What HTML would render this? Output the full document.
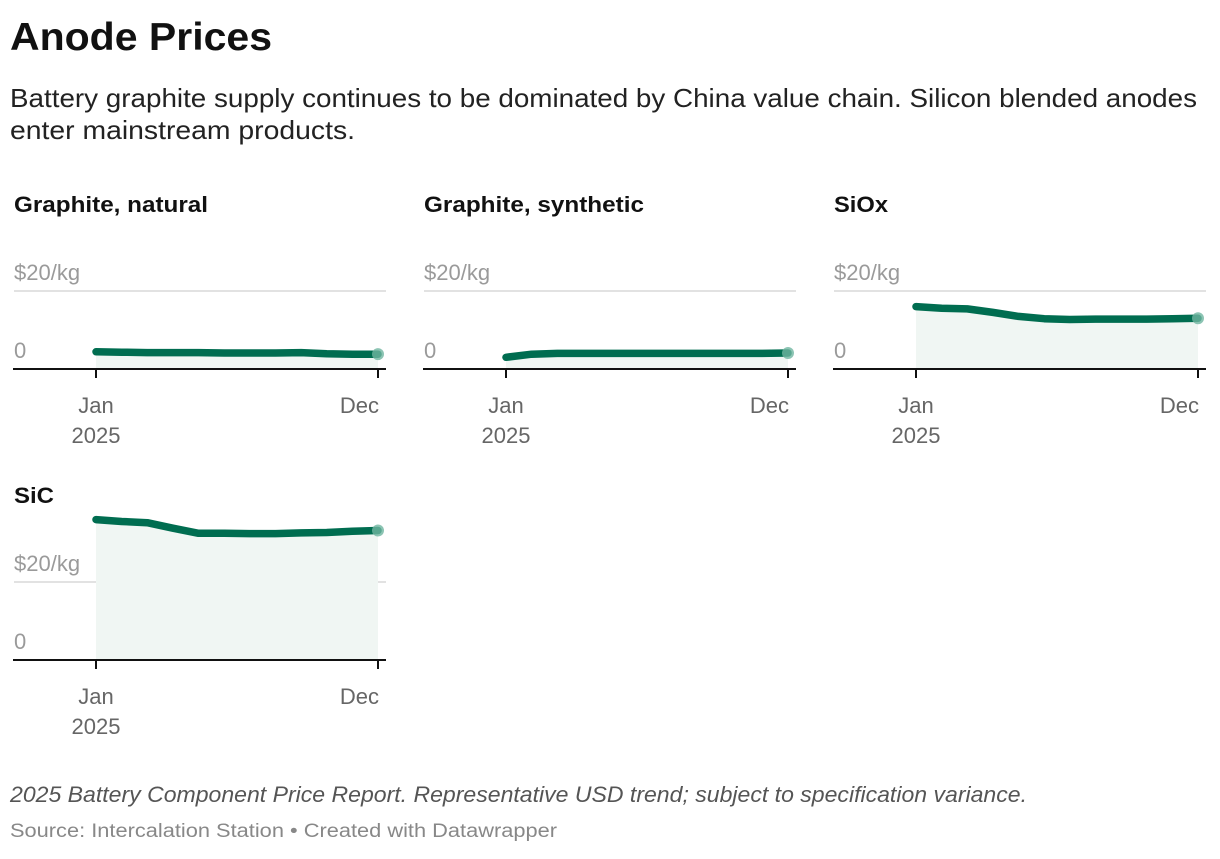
<!DOCTYPE html>
<html><head><meta charset="utf-8"><style>
body{margin:0;background:#fff;width:1220px;height:854px;overflow:hidden;font-family:"Liberation Sans",Arial,sans-serif}
</style></head><body>
<svg id="chart" width="1220" height="854" viewBox="0 0 1220 854" xmlns="http://www.w3.org/2000/svg">
<text x="10" y="50" font-size="39" font-weight="bold" fill="#111" textLength="262" lengthAdjust="spacingAndGlyphs">Anode Prices</text>
<text x="10" y="107" font-size="26" fill="#222" textLength="1187" lengthAdjust="spacingAndGlyphs">Battery graphite supply continues to be dominated by China value chain. Silicon blended anodes</text>
<text x="10" y="139" font-size="26" fill="#222" textLength="345" lengthAdjust="spacingAndGlyphs">enter mainstream products.</text>
<g id="panels"></g>
<text x="10" y="802" font-size="22" font-style="italic" fill="#555" textLength="1017" lengthAdjust="spacingAndGlyphs">2025 Battery Component Price Report. Representative USD trend; subject to specification variance.</text>
<text x="10" y="837" font-size="19" fill="#888" textLength="547" lengthAdjust="spacingAndGlyphs">Source: Intercalation Station • Created with Datawrapper</text>
</svg>
<script>
const months = ["Jan","Feb","Mar","Apr","May","Jun","Jul","Aug","Sep","Oct","Nov","Dec"];
const seriesNames = ["Graphite, natural","Graphite, synthetic","SiOx","SiC"];
const naturalValues = [4.4,4.3,4.2,4.2,4.2,4.1,4.1,4.1,4.2,3.9,3.8,3.8];
const syntheticValues = [3.0,3.8,4.0,4.0,4.0,4.0,4.0,4.0,4.0,4.0,4.0,4.1];
const sioxValues = [16.0,15.6,15.4,14.5,13.5,12.9,12.7,12.8,12.8,12.8,12.9,13.0];
const sicValues = [36.0,35.5,35.2,33.8,32.5,32.5,32.4,32.4,32.6,32.7,33.0,33.2];
const yTickValues = [0,20];
const yTickLabels = ["0","$20/kg"];
const titleWidths = [194,220,54,40];

const NS="http://www.w3.org/2000/svg";
const root=document.getElementById("panels");
function mk(tag,attrs,parent){const e=document.createElementNS(NS,tag);for(const k in attrs)e.setAttribute(k,attrs[k]);parent.appendChild(e);return e;}
const allValues=[naturalValues,syntheticValues,sioxValues,sicValues];
const layout=[{x0:14,axisY:369},{x0:424,axisY:369},{x0:834,axisY:369},{x0:14,axisY:660}];
const pxPerUnit=78/20;
allValues.forEach((vals,p)=>{
  const L=layout[p];
  const g=mk("g",{},root);
  
  
  const xs=i=>L.x0+82+i*(282/(months.length-1));
  const ys=v=>L.axisY-v*pxPerUnit;
  const t=mk("text",{x:L.x0,y:L.axisY-157,"font-size":22,"font-weight":"bold",fill:"#111",textLength:titleWidths[p],lengthAdjust:"spacingAndGlyphs"},g);
  t.textContent=seriesNames[p];
  
  
  yTickValues.forEach((tv,k)=>{
    if(tv>0){const gl=mk("line",{x1:L.x0,x2:L.x0+372,y1:ys(tv),y2:ys(tv),stroke:"#e2e2e2","stroke-width":2},g);
      
      }
    const lb=mk("text",{x:L.x0,y:ys(tv)-11,"font-size":22,fill:"#9a9a9a"},g);
    lb.textContent=yTickLabels[k];
    
    
  });
  let d="",a="M"+xs(0)+","+L.axisY;
  vals.forEach((v,i)=>{d+=(i?"L":"M")+xs(i).toFixed(1)+","+ys(v).toFixed(1);a+="L"+xs(i).toFixed(1)+","+ys(v).toFixed(1);});
  a+="L"+xs(vals.length-1)+","+L.axisY+"Z";
  const ar=mk("path",{d:a,fill:"#f0f6f3"},g);
  
  
  const ax=mk("line",{x1:L.x0-1,x2:L.x0+372,y1:L.axisY,y2:L.axisY,stroke:"#111","stroke-width":2},g);
  
  
  [0,months.length-1].forEach(i=>{
    const tk=mk("line",{x1:xs(i),x2:xs(i),y1:L.axisY,y2:L.axisY+9,stroke:"#111","stroke-width":2},g);
    
    
  });
  const ln=mk("path",{d:d,fill:"none",stroke:"#006d50","stroke-width":7.5,"stroke-linecap":"round","stroke-linejoin":"round"},g);
  
  
  const c=mk("circle",{cx:xs(vals.length-1),cy:ys(vals[vals.length-1]),r:6,fill:"#6fb5a0",opacity:0.8},g);
  
  
  const j=mk("text",{x:xs(0),y:L.axisY+44,"font-size":22,fill:"#666","text-anchor":"middle"},g);
  j.textContent=months[0];
  
  
  const yr=mk("text",{x:xs(0),y:L.axisY+74,"font-size":22,fill:"#666","text-anchor":"middle"},g);
  yr.textContent="2025";
  
  
  const dc=mk("text",{x:xs(months.length-1)+1,y:L.axisY+44,"font-size":22,fill:"#666","text-anchor":"end"},g);
  dc.textContent=months[months.length-1];
  
  
});
</script>
</body></html>
